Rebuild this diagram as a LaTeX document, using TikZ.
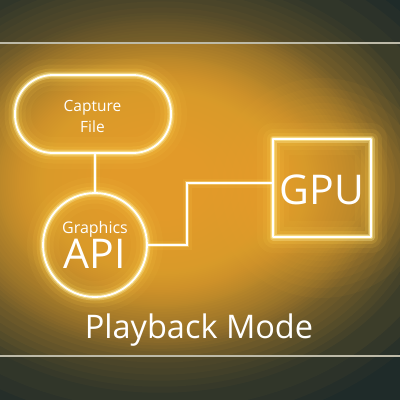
\documentclass[tikz,border=0pt]{standalone}
\usepackage{fontspec}
\setmainfont{Open Sans}
\definecolor{bgdark}{rgb}{0.12,0.17,0.16}
\definecolor{bgorange}{rgb}{0.96,0.68,0.17}
\definecolor{glowc}{rgb}{1,0.82,0.3}
\definecolor{glowy}{rgb}{1,0.93,0.62}
\definecolor{rulec}{rgb}{0.74,0.73,0.66}
\begin{document}
\begin{tikzpicture}[x=1pt,y=-1pt,
  glowline/.style={draw=white, line width=1.8pt, line join=round,
    preaction={draw=glowc, line width=32pt, draw opacity=0.06, line join=round},
    preaction={draw=glowc, line width=21pt, draw opacity=0.1, line join=round},
    preaction={draw=glowc, line width=13pt, draw opacity=0.18, line join=round},
    preaction={draw=glowy, line width=7pt, draw opacity=0.32, line join=round},
    preaction={draw=glowy, line width=4pt, draw opacity=0.6, line join=round}},
  glowconn/.style={draw=white, line width=1.1pt,
    preaction={draw=glowc, line width=9pt, draw opacity=0.12},
    preaction={draw=glowy, line width=3.5pt, draw opacity=0.4}},
  lbl/.style={text=white, inner sep=0pt, anchor=base}]
\useasboundingbox (0,0) rectangle (400,400);
\fill[bgdark] (0,0) rectangle (400,400);
\begin{scope}
\clip (0,0) rectangle (400,400);
\coordinate (gc) at (160,182);
\foreach \r in {292,280,265,245,238,231,224,217,210,203,197,194,190,187,184,180,177,174,170,167,164,160,157,154,151,148,146,144,142,140,138,136,134,132,130,128,126,124,122,120,118,116,114,112,110,108,106,104,102,95,88,81,74,67,60,53,46,39,32,25,18,11,4}{
  \fill[bgorange, opacity=0.05] (gc) ellipse ({1.12*\r} and {0.86*\r});}
\coordinate (gg) at (322,188);
\foreach \r in {110,100,92,85,79,73,68,63,58,53,48,42}{
  \fill[bgorange, opacity=0.05] (gg) circle (\r);}
\fill[bgdark, opacity=0.35] (0,0) rectangle (400,43);
\fill[bgdark, opacity=0.35] (0,356) rectangle (400,400);
\end{scope}
\draw[rulec, line width=1.4pt] (0,43) -- (400,43);
\draw[rulec, line width=1.4pt] (0,356) -- (400,356);
% nodes
\node[glowline, rounded corners=38pt, minimum width=156pt, minimum height=78pt, inner sep=0pt] (cap) at (93,114) {};
\node[glowline, circle, minimum size=104pt, inner sep=0pt] (api) at (95,245) {};
\node[glowline, rectangle, minimum width=98pt, minimum height=98pt, inner sep=0pt] (gpu) at (322,188) {};
% connectors
\coordinate (k) at (187,183);
\draw[glowconn] (api.north |- cap.south) -- (api.north);
\draw[glowconn] (api.east) -| (k) -- (k -| gpu.west);
% labels
\node[lbl, font=\fontsize{15.5}{19}\selectfont] (t1) at (92.5,111) {Capture};
\node[lbl, font=\fontsize{15.5}{19}\selectfont] (t2) at (92.5,132) {File};
\node[lbl, font=\fontsize{16}{20}\selectfont] (t3) at (95,233) {Graphics};
\node[lbl, font=\fontsize{41}{44}\selectfont] (t4) at (95,268) {API};
\node[lbl, font=\fontsize{41}{44}\selectfont] (t5) at (322,204) {GPU};
\node[lbl, font=\fontsize{32.5}{34}\selectfont] (t6) at (199,338) {Playback Mode};
\end{tikzpicture}
\end{document}
